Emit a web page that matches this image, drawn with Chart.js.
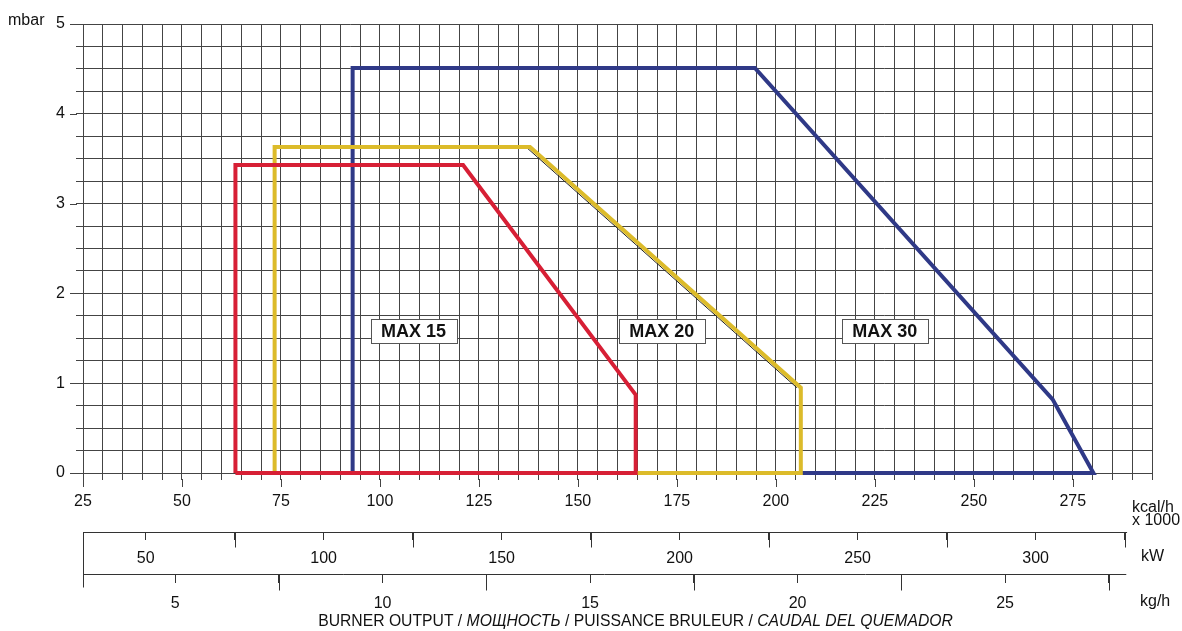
<!DOCTYPE html>
<html>
<head>
<meta charset="utf-8">
<script src="https://cdn.jsdelivr.net/npm/chart.js@4.4.1/dist/chart.umd.min.js"></script>
<style>
html,body{margin:0;padding:0;background:#fff;}
#wrap{width:1182px;height:631px;position:relative;}
</style>
</head>
<body>
<div id="wrap"><canvas id="c"></canvas></div>
<script>
// ---------- DATA (kcal/h x1000 , mbar) ----------
const max15X = [63.5, 63.5, 121.0, 164.6, 164.6, 63.5];
const max15Y = [0, 3.43, 3.43, 0.87, 0, 0];
const max20X = [73.4, 73.4, 137.9, 206.3, 206.3, 73.4];
const max20Y = [0, 3.63, 3.63, 0.95, 0, 0];
const max30X = [93.1, 93.1, 194.7, 269.9, 280.2, 93.1];
const max30Y = [0, 4.51, 4.51, 0.82, 0, 0];
const max20EdgeX = [136.9, 205.3];
const max20EdgeY = [3.63, 0.95];

const seriesNames = ['MAX 15', 'MAX 20', 'MAX 30'];
const labelX = [108.5, 171.2, 227.5];
const labelY = [1.58, 1.58, 1.58];

const kcalRange = [25, 295];
const mbarRange = [0, 5];
const kwRange = [32.4, 332.7];
const kwEnd = 325.7;
const kwTicks = [50, 75, 100, 125, 150, 175, 200, 225, 250, 275, 300, 325];
const kwLabelled = [50, 100, 150, 200, 250, 300];
const kghRange = [2.78, 28.54];
const kghEnd = 27.92;
const kghTicks = [5, 7.5, 10, 12.5, 15, 17.5, 20, 22.5, 25, 27.5];
const kghLabelled = [5, 10, 15, 20, 25];

const unitKcal = ['kcal/h', 'x 1000'];
const unitKw = 'kW';
const unitKgh = 'kg/h';
const unitMbar = 'mbar';
const titleParts = [
  ['BURNER OUTPUT / ', false],
  ['МОЩНОСТЬ', true],
  [' / PUISSANCE BRULEUR / ', false],
  ['CAUDAL DEL QUEMADOR', true]
];

// ---------- STYLE ----------
const RED = '#d71f35';
const YELLOW = '#dcbb2a';
const BLUE = '#2f3987';
const GRID = '#444444';
const INK = '#111111';
const FONT = '"Liberation Sans", Arial, Helvetica, sans-serif';

Chart.defaults.font.family = FONT;
Chart.defaults.font.size = 16;
Chart.defaults.color = INK;

const crisp = v => Math.round(v) + 0.5;
function seg(ctx, x1, y1, x2, y2) { ctx.beginPath(); ctx.moveTo(x1, y1); ctx.lineTo(x2, y2); ctx.stroke(); }
const pts = (xs, ys) => xs.map((v, i) => ({ x: v, y: ys[i] }));

const decor = {
  id: 'decor',
  beforeDraw(chart) {
    const c = chart.ctx; c.save(); c.fillStyle = '#fff'; c.fillRect(0, 0, chart.width, chart.height); c.restore();
  },
  afterDatasetsDraw(chart) {
    const { ctx, scales: { x, y } } = chart;
    ctx.save();
    ctx.font = 'bold 18px ' + FONT;
    ctx.textAlign = 'center'; ctx.textBaseline = 'middle';
    seriesNames.forEach((t, i) => {
      const cx = x.getPixelForValue(labelX[i]), cy = y.getPixelForValue(labelY[i]);
      const w = 86, h = 24;
      const l = Math.round(cx - w / 2) + 0.5, tp = Math.round(cy - h / 2) + 0.5;
      ctx.fillStyle = '#fff'; ctx.fillRect(l, tp, w, h);
      ctx.strokeStyle = '#555'; ctx.lineWidth = 1; ctx.strokeRect(l, tp, w, h);
      ctx.fillStyle = INK; ctx.fillText(t, cx, cy + 1);
    });
    ctx.restore();
  },
  afterDraw(chart) {
    const { ctx, scales: { x, y, kw, kg } } = chart;
    ctx.save();
    ctx.lineWidth = 1; ctx.strokeStyle = GRID;
    // longer major ticks on kcal axis and mbar axis
    x.ticks.forEach(t => {
      if (t.value % 25 === 0) { const px = crisp(x.getPixelForValue(t.value)); seg(ctx, px, x.top + 6, px, x.top + 14); }
    });
    y.ticks.forEach(t => {
      if (Number.isInteger(t.value)) { const py = crisp(y.getPixelForValue(t.value)); seg(ctx, y.right - 13, py, y.right - 6, py); }
    });
    ctx.strokeStyle = '#333';
    // kW axis line + long half ticks
    const kwY = crisp(kw.top);
    seg(ctx, kw.left, kwY, kw.getPixelForValue(kwEnd), kwY);
    kw.ticks.forEach(t => {
      if (!kwLabelled.includes(t.value)) { const px = crisp(kw.getPixelForValue(t.value)); seg(ctx, px, kwY, px, kwY + 15); }
    });
    // kg/h axis line + long half ticks
    const kgY = crisp(kg.top);
    seg(ctx, kg.left, kgY, kg.getPixelForValue(kghEnd), kgY);
    kg.ticks.forEach(t => {
      if (!kghLabelled.includes(t.value)) { const px = crisp(kg.getPixelForValue(t.value)); seg(ctx, px, kgY, px, kgY + 16); }
    });
    // left vertical bracket
    const lx = crisp(kw.left);
    seg(ctx, lx, kwY, lx, kgY + 13);

    // unit labels
    ctx.fillStyle = INK; ctx.font = '16px ' + FONT; ctx.textAlign = 'left'; ctx.textBaseline = 'middle';
    ctx.fillText(unitKcal[0], 1132, 508);
    ctx.fillText(unitKcal[1], 1132, 521);
    ctx.fillText(unitKw, 1141, 557);
    ctx.fillText(unitKgh, 1140, 602);
    ctx.fillText(unitMbar, 8, 21);

    // title with mixed italic
    const base = 14;
    const fontFor = (it, s) => (it ? 'italic ' : '') + s + 'px ' + FONT;
    let w0 = 0;
    titleParts.forEach(([t, it]) => { ctx.font = fontFor(it, base); w0 += ctx.measureText(t).width; });
    const size = base * 635 / w0;
    let total = 0;
    titleParts.forEach(([t, it]) => { ctx.font = fontFor(it, size); total += ctx.measureText(t).width; });
    let tx = 635.5 - total / 2;
    titleParts.forEach(([t, it]) => { ctx.font = fontFor(it, size); ctx.fillText(t, tx, 622); tx += ctx.measureText(t).width; });
    ctx.restore();
  }
};

const lineDs = (label, xs, ys, color, width, order) => ({
  label, data: pts(xs, ys), borderColor: color, backgroundColor: color,
  borderWidth: width, pointRadius: 0, pointHoverRadius: 0, showLine: true, fill: false,
  tension: 0, borderJoinStyle: 'miter', borderCapStyle: 'butt', order, clip: false
});

new Chart(document.getElementById('c'), {
  type: 'scatter',
  data: {
    datasets: [
      lineDs(seriesNames[0], max15X, max15Y, RED, 4, 0),
      lineDs(seriesNames[1], max20X, max20Y, YELLOW, 4, 1),
      lineDs(seriesNames[1] + ' edge', max20EdgeX, max20EdgeY, '#222', 1, 2),
      lineDs(seriesNames[2], max30X, max30Y, BLUE, 4, 3)
    ]
  },
  options: {
    responsive: true,
    maintainAspectRatio: false,
    animation: false,
    events: [],
    layout: { padding: { top: 24, right: 30, bottom: 21, left: 0 } },
    plugins: { legend: { display: false }, tooltip: { enabled: false } },
    scales: {
      x: {
        type: 'linear', position: 'bottom', weight: 1,
        min: kcalRange[0], max: kcalRange[1],
        border: { display: false },
        grid: { color: GRID, lineWidth: 1, tickLength: 7, tickColor: GRID },
        ticks: {
          stepSize: 5, autoSkip: false, maxRotation: 0, padding: 12, color: INK,
          callback: v => (v % 25 === 0 ? String(v) : '')
        },
        afterFit: s => { s.height = 59; }
      },
      kw: {
        type: 'linear', axis: 'x', position: 'bottom', weight: 2,
        min: kwRange[0], max: kwRange[1],
        border: { display: false },
        grid: { drawOnChartArea: false, color: '#333', lineWidth: 1, tickLength: 8 },
        afterBuildTicks: s => { s.ticks = kwTicks.map(v => ({ value: v })); },
        ticks: {
          autoSkip: false, maxRotation: 0, padding: 9, color: INK,
          callback: v => (kwLabelled.includes(v) ? String(v) : '')
        },
        afterFit: s => { s.height = 42; }
      },
      kg: {
        type: 'linear', axis: 'x', position: 'bottom', weight: 3,
        min: kghRange[0], max: kghRange[1],
        border: { display: false },
        grid: { drawOnChartArea: false, color: '#333', lineWidth: 1, tickLength: 9 },
        afterBuildTicks: s => { s.ticks = kghTicks.map(v => ({ value: v })); },
        ticks: {
          autoSkip: false, maxRotation: 0, padding: 11, color: INK,
          callback: v => (kghLabelled.includes(v) ? String(v) : '')
        },
        afterFit: s => { s.height = 36; }
      },
      y: {
        type: 'linear', position: 'left',
        min: mbarRange[0], max: mbarRange[1],
        border: { display: false },
        grid: { color: GRID, lineWidth: 1, tickLength: 7, tickColor: GRID },
        ticks: {
          stepSize: 0.25, autoSkip: false, padding: 11, color: INK,
          callback: v => (Number.isInteger(v) ? String(v) : '')
        },
        afterFit: s => { s.width = 83; }
      }
    }
  },
  plugins: [decor]
});
</script>
</body>
</html>
